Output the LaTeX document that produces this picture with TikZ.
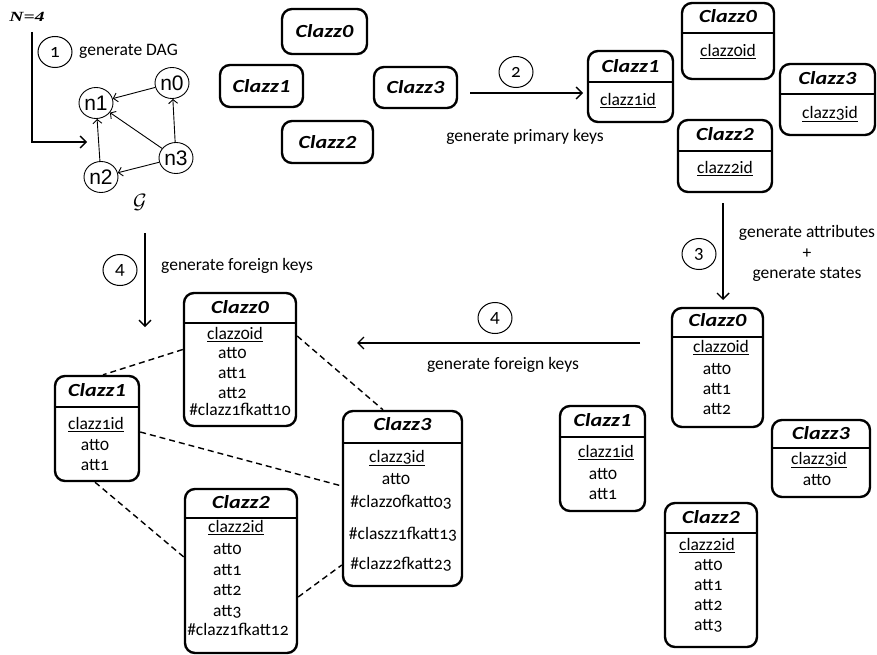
\documentclass[tikz,border=0pt]{standalone}
\usepackage{fontspec}
\setmainfont{Carlito}[Numbers=OldStyle]
\newfontfamily\ttlfont{Carlito}[Numbers=Lining,FakeStretch=1.2]
\newfontfamily\graphfont{Liberation Sans}
\newfontfamily\serffont{Liberation Serif}
\usetikzlibrary{arrows.meta,shapes.geometric,calc,fit}

\tikzset{
 box/.style={draw, line width=2.4pt, rounded corners=10pt, inner sep=0pt},
 hdr/.style={line width=2pt},
 ttl/.style={font=\ttlfont\bfseries\itshape\fontsize{18.5}{20}\selectfont, inner sep=0pt, anchor=mid},
 txt/.style={font=\fontsize{17.5}{20}\selectfont, inner sep=0pt, anchor=mid},
 lbl/.style={font=\fontsize{17.5}{20}\selectfont, inner sep=0pt},
 stepc/.style={draw, ellipse, line width=1pt, minimum width=34pt, minimum height=31pt, inner sep=0pt, font=\fontsize{19}{21}\selectfont},
 gnode/.style={draw, ellipse, line width=0.9pt, minimum width=34pt, minimum height=31pt, inner sep=0pt, font=\graphfont\fontsize{21}{24}\selectfont},
 flow/.style={line width=1.4pt, -{Straight Barb[length=6pt,width=12pt]}},
 gedge/.style={line width=0.9pt, -{Straight Barb[length=4pt,width=9pt]}},
 fk/.style={line width=1.4pt, dash pattern=on 6pt off 4pt},
}

\newcommand\ClassBox[6]{%
  \node[box, fit={#2 #3}] (#1) {};
  \draw[hdr] (#1.west |- 0,#4) -- (#1.east |- 0,#4);
  \node[ttl] (#1-t) at (#1.center |- 0,#5) {#6};
}

\begin{document}
\begin{tikzpicture}[x=1pt,y=-1pt]
\path[use as bounding box] (0,0) rectangle (877,655);

% ---------- step 1 : DAG ----------
\node[font=\serffont\bfseries\itshape\fontsize{14}{16}\selectfont, inner sep=0pt] (N) at (27,17) {\scalebox{1.4}[1]{N=4}};
\coordinate (a1s) at (32,32);
\coordinate (a1e) at (87,142);
\draw[flow] (a1s) |- (a1e);
\node[stepc] (s1) at (55,52) {1};
\node[lbl, anchor=mid west] (l1) at (79,53) {generate DAG};

\node[gnode] (n0) at (172,83) {n0};
\node[gnode] (n1) at (96,103) {n1};
\node[gnode] (n2) at (101,177) {n2};
\node[gnode] (n3) at (176,158) {n3};
\draw[gedge] (n0) -- (n1);
\draw[gedge] (n3) -- (n0);
\draw[gedge] (n3) -- (n1);
\draw[gedge] (n3) -- (n2);
\draw[gedge] (n2) -- (n1);
\node[inner sep=0pt, font=\fontsize{20}{22}\selectfont] (G) at (140,202) {$\mathcal{G}$};

% ---------- plain classes ----------
\node[box, ttl, anchor=center, minimum width=85pt, minimum height=45pt] (TM0) at (324.5,31.5) {Clazz0};
\node[box, ttl, anchor=center, minimum width=83pt, minimum height=42pt] (TM1) at (261.5,86) {Clazz1};
\node[box, ttl, anchor=center, minimum width=91pt, minimum height=42pt] (TM2) at (327.5,142) {Clazz2};
\node[box, ttl, anchor=center, minimum width=83pt, minimum height=41pt] (TM3) at (415.5,87.5) {Clazz3};

% ---------- step 2 ----------
\coordinate (a2s) at (470,93);
\coordinate (a2e) at (583,93);
\draw[flow] (a2s) -- (a2e);
\node[stepc] (s2) at (516,72) {2};
\node[lbl] (l2) at (525,137) {generate primary keys};

% ---------- classes with primary keys ----------
\ClassBox{TR1}{(588,51)}{(673,122)}{82}{70}{Clazz1}
\node[txt] (TR1-r1) at (628,103) {\underline{clazz1id}};
\ClassBox{TR0}{(682,3)}{(774,79)}{33}{20}{Clazz0}
\node[txt] (TR0-r1) at (728,54) {\underline{clazz0id}};
\ClassBox{TR3}{(780,64)}{(875,135)}{94}{82}{Clazz3}
\node[txt] (TR3-r1) at (830,116) {\underline{clazz3id}};
\ClassBox{TR2}{(678,120)}{(772,192)}{151}{138}{Clazz2}
\node[txt] (TR2-r1) at (725,171) {\underline{clazz2id}};

% ---------- step 3 ----------
\coordinate (a3s) at (723,203);
\coordinate (a3e) at (723,300);
\draw[flow] (a3s) -- (a3e);
\node[stepc] (s3) at (699,254) {3};
\node[lbl] (l3a) at (807,233) {generate attributes};
\node[lbl] (l3b) at (807,254) {+};
\node[lbl] (l3c) at (807,274) {generate states};

% ---------- classes with attributes ----------
\ClassBox{BR0}{(672,308)}{(763,427)}{337}{324}{Clazz0}
\node[txt] (BR0-r1) at (721,350) {\underline{clazz0id}};
\node[txt] (BR0-r2) at (717,372) {att0};
\node[txt] (BR0-r3) at (717,392) {att1};
\node[txt] (BR0-r4) at (717,412) {att2};

\ClassBox{BR1}{(560,406)}{(645,511)}{437}{424}{Clazz1}
\node[txt] (BR1-r1) at (606,455) {\underline{clazz1id}};
\node[txt] (BR1-r2) at (603,477) {att0};
\node[txt] (BR1-r3) at (603,497) {att1};

\ClassBox{BR3}{(772,420)}{(870,497)}{448}{437}{Clazz3}
\node[txt] (BR3-r1) at (819,462) {\underline{clazz3id}};
\node[txt] (BR3-r2) at (817,483) {att0};

\ClassBox{BR2}{(665,503)}{(757,647)}{533}{521}{Clazz2}
\node[txt] (BR2-r1) at (707,548) {\underline{clazz2id}};
\node[txt, anchor=mid west] (BR2-r2) at (694,568) {att0};
\node[txt, anchor=mid west] (BR2-r3) at (694,588) {att1};
\node[txt, anchor=mid west] (BR2-r4) at (694,608) {att2};
\node[txt, anchor=mid west] (BR2-r5) at (694,628) {att3};

% ---------- step 4 (right) ----------
\coordinate (a4s) at (640,343);
\coordinate (a4e) at (357,343);
\draw[flow] (a4s) -- (a4e);
\node[stepc] (s4r) at (495,318) {4};
\node[lbl] (l4r) at (503,365) {generate foreign keys};

% ---------- step 4 (left) ----------
\coordinate (a5s) at (145,233);
\coordinate (a5e) at (145,327);
\draw[flow] (a5s) -- (a5e);
\node[stepc] (s4l) at (120,270) {4};
\node[lbl, anchor=mid west] (l4l) at (161,268) {generate foreign keys};

% ---------- classes with foreign keys ----------
\ClassBox{BL0}{(184,293)}{(296,426)}{323}{311}{Clazz0}
\node[txt] (BL0-r1) at (235,337) {\underline{clazz0id}};
\node[txt, anchor=mid west] (BL0-r2) at (218,356) {att0};
\node[txt, anchor=mid west] (BL0-r3) at (218,376) {att1};
\node[txt, anchor=mid west] (BL0-r4) at (218,396) {att2};
\node[txt] (BL0-r5) at (240,413) {\#clazz1fkatt10};

\ClassBox{BL1}{(55,376)}{(139,481)}{407}{394}{Clazz1}
\node[txt] (BL1-r1) at (96,427) {\underline{clazz1id}};
\node[txt] (BL1-r2) at (95,448) {att0};
\node[txt] (BL1-r3) at (95,468) {att1};

\ClassBox{BL2}{(185,489)}{(297,653)}{518}{506}{Clazz2}
\node[txt] (BL2-r1) at (236,530) {\underline{clazz2id}};
\node[txt, anchor=mid west] (BL2-r2) at (213,552) {att0};
\node[txt, anchor=mid west] (BL2-r3) at (213,573) {att1};
\node[txt, anchor=mid west] (BL2-r4) at (213,593) {att2};
\node[txt, anchor=mid west] (BL2-r5) at (213,614) {att3};
\node[txt] (BL2-r6) at (238,633) {\#clazz1fkatt12};

\ClassBox{BL3}{(343,411)}{(462,586)}{443}{428}{Clazz3}
\node[txt] (BL3-r1) at (397,460) {\underline{clazz3id}};
\node[txt] (BL3-r2) at (396,482) {att0};
\node[txt] (BL3-r3) at (401,505) {\#clazz0fkatt03};
\node[txt] (BL3-r4) at (403,537) {\#claszz1fkatt13};
\node[txt] (BL3-r5) at (401,567) {\#clazz2fkatt23};

% foreign-key links
\draw[fk] ([yshift=10pt]BL0.west) -- ([xshift=6pt]BL1.north);
\draw[fk] ([yshift=23.5pt]BL0.east) -- ([xshift=-19.5pt]BL3.north);
\draw[fk] ([yshift=-3.5pt]BL1.east) -- ([yshift=12.5pt]BL3.west);
\draw[fk] ([xshift=-2pt]BL1.south) -- ([yshift=14pt]BL2.west);
\draw[fk] ([yshift=-26pt]BL2.east) -- ([yshift=-66.5pt]BL3.west);
\end{tikzpicture}
\end{document}
